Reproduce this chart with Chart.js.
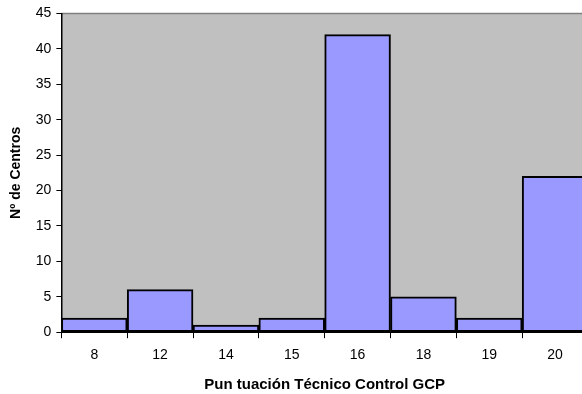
<!DOCTYPE html>
<html>
<head>
<meta charset="utf-8">
<script src="https://cdn.jsdelivr.net/npm/chart.js@4.4.1/dist/chart.umd.min.js"></script>
<style>
  html, body { margin: 0; padding: 0; background: #fff; overflow: hidden; }
  #wrap { width: 582px; height: 394px; overflow: hidden; position: relative; }
  #box { width: 592px; height: 394px; position: absolute; left: 0; top: 0; }
</style>
</head>
<body>
<div id="wrap"><div id="box"><canvas id="ch_gcp"></canvas></div></div>
<script>
// Puntuación vs nº de centros
const scores  = ['8', '12', '14', '15', '16', '18', '19', '20'];
const centros = [2, 6, 1, 2, 42, 5, 2, 22];
const yTicks  = [0, 5, 10, 15, 20, 25, 30, 35, 40, 45];

const FONT = 'Arial, "Liberation Sans", sans-serif';

// gray plot area + darker top edge, like the old Excel look
const plotBg = {
  id: 'plotBg',
  beforeDraw(chart) {
    const { ctx, chartArea: a } = chart;
    ctx.save();
    ctx.fillStyle = '#c0c0c0';
    ctx.fillRect(a.left, a.top, a.right - a.left, a.bottom - a.top);
    ctx.strokeStyle = '#808080';
    ctx.lineWidth = 1.5;
    ctx.beginPath();
    ctx.moveTo(a.left, a.top);
    ctx.lineTo(a.right, a.top);
    ctx.stroke();
    ctx.restore();
  }
};

new Chart(document.getElementById('ch_gcp').getContext('2d'), {
  type: 'bar',
  data: {
    labels: scores,
    datasets: [{
      data: centros,
      backgroundColor: '#9999ff',
      borderColor: '#000000',
      borderWidth: 2,
      borderSkipped: false,
      categoryPercentage: 1.0,
      barPercentage: 1.0
    }]
  },
  options: {
    responsive: true,
    maintainAspectRatio: false,
    animation: false,
    layout: { padding: { top: 9, right: 4, bottom: 0, left: 8 } },
    plugins: {
      legend: { display: false },
      tooltip: { enabled: false }
    },
    scales: {
      x: {
        offset: true,
        grid: { offset: true, drawOnChartArea: false, drawTicks: true, tickLength: 6, color: '#000', lineWidth: 1 },
        border: { color: '#000', width: 1 },
        ticks: { color: '#000', font: { family: FONT, size: 14 }, padding: 9, maxRotation: 0 },
        title: {
          display: true,
          text: 'Pun tuación Técnico Control GCP',
          color: '#000',
          font: { family: FONT, size: 15, weight: 'bold' },
          padding: { top: 3, bottom: 0 }
        }
      },
      y: {
        min: 0,
        max: 45,
        afterBuildTicks: axis => { axis.ticks = yTicks.map(v => ({ value: v })); },
        grid: { drawOnChartArea: false, drawTicks: true, tickLength: 5, color: '#000', lineWidth: 1 },
        border: { color: '#000', width: 1.5 },
        ticks: { color: '#000', font: { family: FONT, size: 14 }, padding: 5 },
        title: {
          display: true,
          text: 'Nº de Centros',
          color: '#000',
          font: { family: FONT, size: 14, weight: 'bold' },
          padding: { top: 0, bottom: 6 }
        }
      }
    }
  },
  plugins: [plotBg]
});
</script>
</body>
</html>
